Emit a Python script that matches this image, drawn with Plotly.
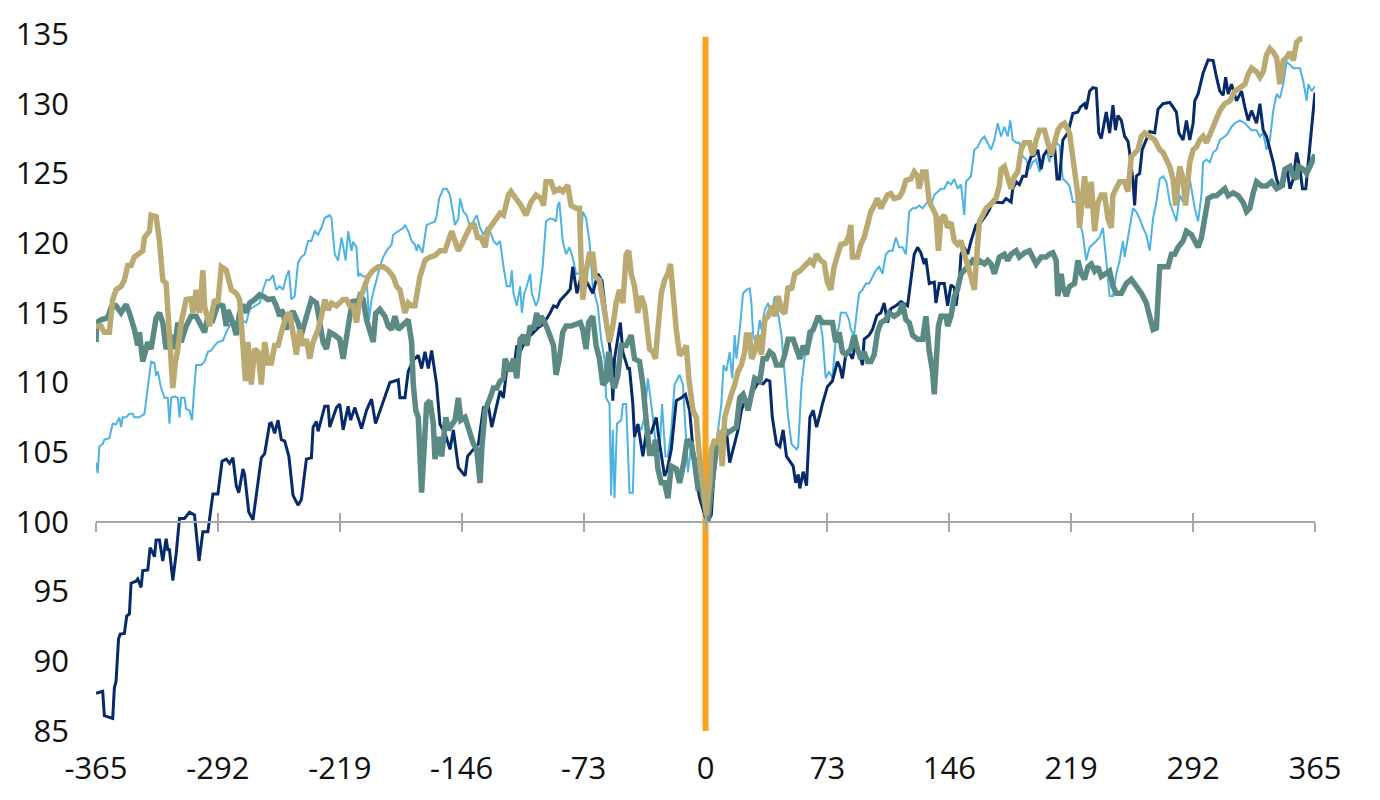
import plotly.graph_objects as go

# event-window chart: index = 100 at day 0, four series from day -365 to +365

X_TICKS = [-365, -292, -219, -146, -73, 0, 73, 146, 219, 292, 365]
X_TICK_TEXT = ["-365", "-292", "-219", "-146", "-73", "0", "73", "146", "219", "292", "365"]
Y_TICKS = [85, 90, 95, 100, 105, 110, 115, 120, 125, 130, 135]
EVENT_DAY = 0
EVENT_TOP = 134.8
BASE = 100

navy_days = [
    -365, -361, -360, -355, -354, -353, -351.5, -350.5, -348, -346.6, -345, -344, -341, -340, -338, -337,
    -334, -332.6, -331.5, -330, -329, -327, -325, -323, -322, -321, -319, -317, -315, -312, -309, -306,
    -303.3, -301, -298, -295, -292, -291, -289.5, -287, -285, -283, -281, -279.5, -277, -276, -273.5, -271,
    -269, -266, -264, -261, -260, -258, -256, -254, -252, -249.5, -247, -244, -242, -239, -236, -235,
    -233, -232, -228, -226, -225, -221, -219, -217, -214, -212.5, -210, -206, -203, -200, -197.6, -195.5,
    -192, -189, -184, -183, -180, -178, -175, -172, -170, -168, -166, -164, -161, -159, -156, -153,
    -151, -148, -144, -142.5, -139, -136, -133, -130, -128, -126, -123, -121, -119, -116, -114, -113,
    -111, -108, -105, -103, -100, -97, -93, -91, -89, -87, -83, -81, -79.5, -77, -74, -67.5,
    -64.5, -62, -59.5, -56.5, -55.5, -54.5, -51, -49.5, -46.5, -45.5, -43.5, -42.5, -40.5, -37.5, -35.5, -32.5,
    -29.5, -27.5, -24.5, -23, -20.5, -17.5, -14.5, -12, -9.5, -6.5, -3.5, -0.5, 1.5, 3.5, 4.5, 6.5,
    9.5, 12.5, 14.5, 17.5, 19.5, 21.5, 23.5, 25.5, 28.5, 31.5, 34.5, 36.5, 38.5, 40, 42.5, 44.5,
    46.5, 48.5, 52.5, 54, 55.5, 56.5, 58.5, 60.5, 62.5, 64.5, 66.5, 68.5, 70, 73, 76, 79,
    80.5, 82, 84, 86, 88, 89.7, 92, 94, 95, 98, 100, 102.6, 105, 107, 109, 111,
    114, 117, 121, 123, 125, 127, 129, 131, 132, 134, 137, 138, 140, 143, 145, 147,
    149, 150, 152, 153, 155, 157, 159, 162, 165, 168, 170, 172, 175, 178, 180, 183,
    184, 186, 188, 190, 192, 193, 195, 197, 199, 201, 202.5, 205, 207, 209, 210.5, 212,
    214, 217, 220, 223, 224.5, 227, 228, 230, 232, 234, 235.5, 237, 239, 240, 242, 244,
    245.5, 247, 249, 251, 253, 254, 256, 257, 258, 260, 261.5, 264, 266, 269, 271, 274,
    278, 280, 282, 283.5, 286, 288, 290, 292, 293, 295, 298, 301, 304, 306, 308, 310,
    311.5, 313, 315, 318, 321, 323, 325, 327, 330, 332, 334, 336, 337.5, 340, 342, 343.5,
    346, 348, 350, 352, 354, 356, 357.5, 359.5, 361, 363, 365,
]
navy_vals = [
    87.7, 87.85, 86.1, 85.9, 88.1, 88.55, 91.6, 91.95, 92.0, 93.24, 93.4, 95.6, 95.75, 95.9, 95.3, 96.5,
    96.55, 98.15, 97.9, 97.5, 98.7, 98.7, 97.2, 98.8, 98.0, 98.0, 95.8, 97.7, 100.25, 100.25, 100.7, 100.5,
    97.2, 99.3, 99.3, 102.0, 102.0, 102.8, 104.35, 104.5, 104.2, 104.6, 102.6, 102.1, 103.8, 103.4, 100.7, 100.15,
    101.9, 104.6, 104.9, 107.05, 107.1, 106.35, 107.3, 105.9, 105.8, 104.7, 101.9, 101.2, 101.6, 104.5, 104.6, 106.8,
    107.2, 106.5, 108.3, 108.3, 106.8, 108.2, 108.45, 106.6, 108.3, 107.3, 108.2, 106.7, 108.0, 108.8, 107.05, 107.8,
    108.9, 110.0, 110.2, 108.9, 108.9, 110.8, 111.6, 111.95, 111.0, 112.2, 111.0, 112.3, 109.85, 107.0, 106.35, 105.2,
    106.6, 103.9, 103.3, 104.7, 105.2, 105.6, 108.2, 108.3, 106.8, 107.8, 109.4, 108.9, 111.0, 111.3, 111.7, 112.65,
    112.2, 113.0, 113.4, 113.6, 113.95, 114.2, 115.0, 115.5, 115.4, 115.9, 116.4, 116.7, 118.3, 116.4, 117.85, 116.4,
    117.8, 117.3, 114.75, 111.7, 108.7, 111.7, 114.3, 112.2, 111.0, 111.0, 108.45, 106.1, 107.0, 104.7, 106.4, 106.4,
    107.5, 105.6, 103.3, 103.7, 105.2, 108.7, 108.9, 109.15, 108.0, 103.8, 101.7, 100.5, 100.0, 100.5, 102.4, 105.2,
    105.4, 106.6, 104.25, 105.6, 106.6, 108.0, 108.7, 108.0, 109.4, 110.0, 109.9, 110.2, 110.1, 107.5, 105.6, 105.4,
    106.6, 104.7, 104.0, 102.8, 103.4, 102.4, 103.6, 102.6, 107.5, 108.0, 106.8, 107.7, 108.45, 109.7, 110.1, 111.5,
    111.1, 110.3, 112.0, 112.2, 111.7, 112.65, 112.2, 111.25, 113.1, 113.4, 113.8, 114.8, 115.0, 115.7, 114.3, 115.3,
    115.5, 115.8, 115.5, 117.35, 119.2, 119.7, 119.3, 118.5, 118.9, 117.1, 117.2, 115.7, 117.1, 117.1, 115.5, 117.0,
    116.8, 115.5, 117.3, 119.2, 119.7, 119.2, 120.15, 121.3, 121.5, 122.0, 122.4, 122.95, 122.9, 122.9, 123.2, 122.95,
    123.9, 124.4, 124.2, 124.8, 124.8, 125.5, 126.2, 126.3, 126.7, 125.3, 126.3, 126.7, 126.2, 127.05, 124.6, 124.6,
    127.4, 127.9, 129.3, 129.4, 129.75, 130.0, 129.6, 130.9, 131.15, 131.1, 127.9, 127.5, 128.8, 129.4, 127.9, 129.9,
    128.1, 129.15, 128.8, 127.65, 127.3, 126.5, 124.4, 122.7, 124.8, 125.0, 126.7, 127.4, 128.0, 127.9, 129.6, 130.0,
    130.1, 129.75, 129.4, 127.9, 127.4, 128.8, 127.4, 128.6, 130.2, 130.7, 132.2, 133.15, 133.1, 131.9, 130.9, 130.6,
    131.9, 130.7, 131.4, 130.2, 130.9, 129.75, 128.8, 129.5, 128.6, 130.0, 128.1, 127.65, 126.95, 125.8, 124.6, 124.1,
    124.1, 125.5, 123.9, 124.6, 126.5, 125.3, 123.9, 123.9, 125.8, 128.6, 130.8,
]

teal_days = [
    -365, -364.5, -362, -358, -356, -353, -350, -347, -345, -342, -340, -339, -337, -334, -332, -329,
    -327, -325, -323, -320, -318, -316, -314, -311, -308, -305, -302, -300, -298, -295, -292, -289,
    -287, -286, -283, -281, -279, -277, -275, -273, -270, -267, -265, -262, -259, -257, -255, -254,
    -253, -251, -249, -247, -244, -242, -240, -238, -236, -233, -231, -229, -227, -225, -222, -219,
    -217, -215, -213, -211, -209, -207, -205, -203, -201, -199, -197.5, -195, -192, -190, -188, -186,
    -184, -182, -180, -178, -176, -175, -173.5, -172, -170, -168, -167, -165, -163, -162, -160, -158,
    -155.5, -154, -152, -150, -148, -146.5, -144, -141, -139, -137, -135, -134, -132, -129, -127, -125,
    -123, -121, -120, -117, -115, -113, -111, -109, -107, -105, -103, -101, -100, -98.5, -97, -94.5,
    -91, -89.5, -87.5, -85.5, -83.5, -80.5, -77.5, -75, -73.5, -71.5, -70, -67.5, -65.5, -63.5, -61.5, -59.5,
    -58, -56.5, -54.5, -52.5, -50.5, -47.5, -44.5, -42.5, -39.5, -37.5, -35.5, -33.5, -31.5, -30, -28.5, -26.5,
    -24.5, -22.5, -20.5, -17.5, -15.5, -13, -11, -8.5, -6.5, -4.5, -2.5, -0.5, 1.5, 3.5, 5, 6.5,
    9.5, 11.5, 13.5, 15.5, 18.5, 20.5, 22.5, 24.5, 25.5, 27.5, 29.5, 32.5, 34.5, 36.5, 38.5, 40.5,
    42.5, 45.5, 47.5, 49.5, 52.5, 54.5, 56.5, 58.5, 60.5, 62.5, 64.5, 67.5, 70, 72, 76, 78,
    80, 82, 84, 87, 89, 91, 93, 95, 97, 99, 101, 103, 105, 108, 110, 113,
    116, 118, 120, 122, 124, 127, 130, 132, 134, 136, 137, 138, 139.5, 141, 144, 145,
    147, 149, 151, 153, 155, 157, 160, 162, 164, 167, 169, 171, 173, 176, 179, 181,
    183, 186, 188, 191, 194, 196, 198, 201, 204, 206, 208, 210, 211, 213, 214, 216,
    218, 221, 223, 225, 227, 229, 231, 233, 235, 237, 239, 242, 244, 246, 249, 252,
    255, 258, 261, 264, 266, 268, 270, 271, 272, 275, 277, 279, 281, 283, 286, 288,
    291, 293, 295, 297, 299, 301, 304, 306, 308, 311, 313, 316, 319, 322, 324, 326,
    328, 330, 333, 336, 339, 342, 345, 347, 350, 352, 354, 355, 358, 360, 362, 365,
]
teal_vals = [
    112.9, 114.3, 114.5, 114.65, 115.35, 115.5, 115.0, 115.6, 115.0, 113.8, 112.65, 113.6, 111.5, 112.9, 112.4, 114.65,
    115.0, 114.3, 112.4, 113.4, 112.4, 114.3, 112.9, 114.05, 114.75, 114.75, 114.05, 113.6, 114.75, 114.5, 115.6, 115.5,
    114.05, 115.2, 114.3, 113.4, 115.0, 115.6, 115.0, 115.7, 115.95, 116.3, 116.2, 115.95, 116.0, 115.5, 114.75, 115.2,
    115.0, 113.8, 114.75, 115.1, 114.3, 113.4, 114.3, 115.0, 115.95, 115.7, 114.3, 112.9, 112.4, 113.6, 113.4, 113.1,
    111.7, 113.6, 114.75, 115.95, 115.5, 116.2, 115.95, 114.5, 113.6, 112.9, 114.95, 115.25, 114.75, 114.05, 113.8, 114.75,
    113.8, 114.05, 114.3, 114.5, 112.9, 109.85, 108.0, 107.5, 102.1, 107.05, 108.45, 108.7, 107.05, 104.5, 106.1, 104.7,
    107.5, 106.6, 107.05, 107.3, 108.9, 107.3, 107.5, 106.35, 105.6, 105.2, 102.8, 105.2, 108.0, 108.9, 109.6, 109.6,
    110.1, 110.3, 111.7, 110.8, 111.7, 110.3, 113.1, 113.4, 112.65, 114.05, 113.8, 115.0, 114.05, 114.75, 114.5, 113.8,
    112.65, 110.55, 111.7, 113.6, 114.05, 114.05, 114.2, 114.3, 113.8, 112.4, 114.3, 114.75, 112.65, 111.7, 109.85, 110.1,
    112.2, 110.3, 109.6, 110.5, 112.65, 112.65, 113.4, 111.7, 111.5, 109.85, 107.3, 104.9, 104.9, 105.9, 103.8, 102.8,
    102.8, 101.7, 104.0, 103.8, 102.8, 104.25, 105.9, 105.6, 104.25, 102.4, 102.4, 101.0, 100.0, 102.4, 104.25, 105.2,
    105.6, 106.6, 106.4, 106.6, 106.8, 108.9, 109.15, 108.45, 108.0, 109.15, 110.3, 110.1, 111.7, 111.7, 112.2, 112.0,
    111.25, 111.25, 112.0, 113.1, 113.1, 112.4, 111.7, 112.65, 112.0, 113.6, 113.8, 114.75, 114.3, 114.3, 114.3, 112.9,
    113.6, 112.2, 112.0, 112.4, 113.4, 112.4, 111.7, 112.2, 111.5, 111.5, 112.0, 113.6, 114.3, 114.5, 115.0, 114.75,
    115.0, 115.7, 114.5, 114.3, 113.4, 113.1, 113.1, 114.75, 112.2, 110.8, 109.15, 111.2, 114.05, 114.75, 114.75, 114.05,
    114.75, 116.2, 116.7, 117.8, 118.0, 118.3, 118.75, 118.5, 118.75, 118.5, 118.75, 118.5, 117.8, 119.0, 119.2, 118.75,
    119.2, 119.45, 119.0, 119.3, 119.45, 119.0, 118.5, 119.0, 119.0, 119.2, 119.3, 118.75, 116.2, 117.8, 116.9, 116.2,
    116.9, 117.1, 118.75, 117.8, 117.4, 118.3, 118.5, 118.0, 118.3, 117.6, 117.8, 118.0, 116.9, 116.4, 116.4, 117.1,
    117.4, 116.9, 116.4, 115.7, 114.5, 113.8, 113.9, 116.4, 118.3, 118.3, 118.3, 119.2, 119.2, 119.7, 120.15, 120.85,
    120.6, 120.15, 119.7, 120.4, 122.0, 123.2, 123.4, 123.4, 123.6, 123.9, 123.4, 123.6, 123.4, 122.9, 122.25, 122.5,
    123.6, 124.4, 124.1, 124.1, 124.4, 123.9, 124.1, 125.3, 125.5, 124.8, 124.6, 125.5, 125.3, 125.0, 125.5, 126.35,
]

tan_days = [
    -365, -362, -360, -357, -355, -353, -350, -348, -346, -344, -342, -340, -337, -336, -333, -332,
    -329, -327, -325, -323, -321.5, -320, -319, -317.5, -316, -314, -311, -308, -307, -305, -303, -301,
    -300, -297, -294, -292, -290, -287, -284, -281, -279, -277, -275.5, -274, -272, -270, -268, -266,
    -264, -262, -260, -258, -256, -253.5, -251, -249, -247, -245, -243, -241, -239, -237, -235, -232,
    -230, -228, -226, -224, -221, -219, -217, -215, -213, -211, -209, -207, -204, -202, -199, -196,
    -193, -190, -187, -185, -183, -182, -180, -178, -176, -174, -173, -171, -168, -165, -162, -159,
    -156, -154, -152, -150, -148, -146, -144, -142, -140.5, -138.5, -136.5, -134.5, -132, -130.5, -128, -126,
    -123, -121, -118, -116.5, -113.5, -110.5, -107.5, -104.5, -101.5, -98.5, -97, -95.5, -92.5, -90.5, -87.5, -85.5,
    -82.5, -80.5, -77.5, -75.5, -74.5, -73.5, -71.5, -69.5, -67.5, -66, -63.5, -61.5, -59.5, -57.5, -55.5, -53.5,
    -51.5, -49.5, -47.5, -46, -44.5, -42.5, -40.5, -38.5, -36.5, -34.5, -33.5, -31.5, -30, -28.5, -26.5, -24.5,
    -22.5, -21, -19.5, -17.5, -15.5, -13.5, -11.5, -10, -7.5, -5.5, -4, -2.5, -1, 0.5, 2.5, 3.5,
    5.5, 7.5, 8.5, 10, 11.5, 13.5, 15.5, 17.5, 19.5, 21.5, 23.5, 24.5, 26.5, 27.5, 29.5, 31.5,
    33.5, 35.5, 37.5, 39.5, 41.5, 43.5, 45.5, 47.5, 49.5, 51.5, 53.5, 56.5, 58.5, 60.5, 62.5, 64.5,
    66.5, 69, 71, 73, 75, 77, 79, 81, 84, 86, 87, 88, 91, 93, 95, 97,
    99, 101, 103, 105, 107, 109, 111, 113, 116, 118, 120, 123, 125, 127, 128, 130,
    132, 134, 136, 138, 139.5, 141, 143, 145, 147, 149, 151, 153, 155, 157, 159, 161,
    162, 164, 166, 168, 170, 172, 174, 176, 177, 179, 181, 183, 185, 187, 189, 191,
    194, 196, 198, 200, 203, 205, 207, 209, 211, 213, 215, 218, 220, 221, 223, 224,
    226, 227, 229, 231, 233, 235, 237, 239, 241, 243, 244, 246, 248, 251, 253, 255,
    257, 259, 261, 263, 266, 269, 272, 274, 276, 278, 280, 281.5, 284, 286, 287.5, 290,
    292, 294, 296, 298, 300, 303, 305, 308, 311, 314, 317, 320, 323, 325, 327, 330,
    332, 334, 336, 338, 340, 342, 344, 346, 348, 350, 352, 354, 356, 357.5,
]
tan_vals = [
    114.05, 114.05, 113.6, 113.6, 115.95, 116.65, 116.9, 117.35, 118.4, 118.4, 119.0, 119.2, 119.45, 120.4, 120.85, 122.0,
    121.9, 120.15, 117.35, 117.1, 114.3, 111.95, 109.6, 111.4, 112.4, 114.3, 115.95, 116.0, 115.0, 116.65, 115.0, 118.05,
    115.5, 114.05, 115.95, 115.7, 118.3, 118.05, 116.65, 116.4, 115.95, 112.65, 110.1, 112.9, 109.85, 112.4, 112.2, 109.85,
    112.9, 111.4, 111.4, 112.65, 112.65, 113.8, 114.75, 115.0, 113.4, 112.0, 113.8, 112.65, 113.1, 111.7, 112.9, 113.8,
    114.75, 115.95, 115.2, 115.7, 115.5, 115.7, 115.95, 115.95, 115.5, 115.5, 114.3, 115.95, 116.9, 117.6, 118.05, 118.3,
    118.3, 118.05, 117.6, 116.9, 116.65, 115.95, 115.0, 115.7, 115.5, 115.5, 116.4, 117.6, 118.75, 119.0, 119.1, 119.45,
    119.45, 120.15, 120.85, 120.15, 119.45, 119.9, 120.4, 120.85, 121.3, 121.3, 120.4, 120.4, 119.7, 120.85, 121.3, 121.55,
    122.15, 122.0, 123.45, 123.7, 123.2, 122.7, 122.0, 122.95, 123.45, 123.2, 122.7, 124.4, 124.4, 123.7, 123.9, 123.7,
    124.15, 122.7, 122.5, 122.5, 118.75, 115.95, 118.0, 119.2, 119.2, 117.6, 117.35, 115.7, 114.5, 112.9, 114.05, 115.7,
    116.65, 115.7, 119.2, 119.45, 117.8, 116.9, 115.0, 116.2, 115.5, 113.8, 112.4, 112.2, 111.7, 113.8, 116.4, 117.35,
    117.8, 118.5, 116.2, 113.8, 111.95, 112.2, 112.65, 110.3, 108.0, 107.5, 105.2, 103.55, 101.4, 100.5, 102.8, 105.2,
    105.9, 105.6, 106.6, 104.0, 107.5, 108.45, 109.15, 109.85, 110.8, 111.25, 112.2, 113.4, 113.4, 111.7, 112.2, 113.4,
    112.0, 114.5, 114.75, 115.5, 114.75, 116.2, 115.2, 114.95, 116.9, 116.65, 117.8, 118.0, 118.3, 118.5, 118.75, 118.5,
    119.2, 118.75, 118.6, 117.2, 116.65, 118.3, 119.2, 119.9, 120.0, 120.6, 121.3, 119.0, 119.0, 119.9, 120.4, 121.55,
    122.25, 122.7, 123.2, 122.5, 122.95, 123.45, 123.55, 123.2, 123.3, 123.7, 124.5, 124.6, 125.1, 124.8, 123.9, 125.1,
    125.1, 122.95, 122.5, 122.0, 119.45, 121.75, 122.0, 121.1, 121.5, 120.15, 119.9, 120.15, 119.2, 118.5, 117.6, 116.65,
    118.3, 121.55, 122.0, 122.5, 122.7, 122.95, 123.2, 124.15, 125.3, 125.5, 124.6, 123.9, 124.8, 125.1, 126.7, 127.2,
    127.2, 126.3, 127.4, 128.1, 128.1, 127.05, 126.3, 127.2, 128.1, 128.45, 128.6, 127.9, 126.0, 124.6, 123.45, 121.1,
    123.9, 124.8, 122.5, 124.4, 120.85, 122.9, 123.45, 123.45, 121.75, 121.1, 123.45, 123.9, 124.4, 124.4, 123.7, 126.2,
    126.5, 126.7, 127.65, 127.9, 127.65, 127.4, 126.7, 126.5, 126.0, 125.5, 124.6, 122.7, 125.5, 124.6, 122.7, 125.8,
    126.7, 126.9, 127.4, 127.65, 127.2, 128.1, 128.8, 129.5, 130.0, 130.2, 130.9, 131.2, 131.4, 132.1, 132.55, 132.3,
    131.9, 132.3, 133.5, 133.95, 133.7, 133.3, 131.4, 133.1, 133.3, 133.7, 133.1, 134.4, 134.65, 134.65,
]

light_days = [
    -365, -364, -363, -361, -360, -357, -355, -353, -351, -350, -349, -347, -345, -343, -342, -339,
    -336, -335, -333, -332, -330, -329, -328, -326, -324, -322, -321, -320, -318, -316, -315, -314,
    -312, -311, -309, -307.5, -306, -305, -302, -300, -298, -296, -294, -292, -289, -287, -284, -281,
    -278, -275, -273, -270, -267, -265, -263, -261, -259, -258, -257, -255, -253, -251, -249.5, -248,
    -246, -244, -242, -240, -238, -236, -234, -232, -230, -228, -225, -224, -222, -220, -218, -217,
    -215.5, -214, -212, -211, -209, -208, -207, -205, -203, -201.5, -200, -198, -195, -193, -191, -188,
    -187, -184, -181, -180, -178, -176, -174, -173, -172, -169.5, -167, -165, -162, -161, -159.5, -157,
    -155, -153, -151, -150, -148, -147, -145, -143, -141, -139, -137, -135, -133, -131, -129, -127,
    -125, -123, -121, -119, -117, -116, -115, -113, -111, -110, -108.5, -107, -105, -104, -101.5, -100,
    -97.5, -95.5, -93.5, -91.5, -89.5, -88.5, -87.5, -85.5, -83.5, -81.5, -79.5, -77.5, -75.5, -73.5, -71.5, -69.5,
    -67.5, -64.5, -62.5, -60.5, -59.5, -57.5, -56.5, -55.5, -54.5, -53, -50.5, -49.5, -47.5, -45.5, -43.5, -42.5,
    -40.5, -38.5, -36.5, -34.5, -33.5, -31.5, -29.5, -27.5, -26, -24, -22.5, -20.5, -18.5, -15.5, -13.5, -12,
    -10.5, -8.5, -6.5, -4.5, -2.5, -0.5, 1.5, 3.5, 5.5, 7.5, 9.5, 10.8, 12.5, 14.5, 16, 17.5,
    18.5, 20.5, 22.5, 24.5, 26.5, 27.5, 28.5, 30.5, 32.5, 33.5, 35.5, 37.5, 39.5, 41.5, 43.5, 45.5,
    47.5, 49.5, 51.5, 54.5, 55.5, 56.5, 57.5, 59.5, 62.5, 64.5, 66.5, 68.5, 70, 72, 74, 76,
    78, 80, 81, 84, 86, 87, 89, 91, 92, 94, 96, 98, 100, 102, 104, 106,
    108, 110, 112, 114, 116, 118, 120, 122, 124, 126, 128, 130, 133, 135, 137, 139,
    141, 143, 145, 147, 149, 151, 153, 155, 156, 159, 161, 163, 165, 167, 169, 171,
    173, 175, 176, 177, 179, 181, 182.5, 184, 186, 188, 190, 192, 194, 196, 198, 200,
    202, 204, 206, 208, 210, 212, 214, 216, 218, 220, 222, 224, 226, 228, 230, 232,
    234, 236, 238, 240, 242, 244, 246, 248, 250, 251, 253, 254, 256, 258, 260, 262,
    264, 266, 268, 270, 272, 274, 276, 278, 280, 282, 284, 286, 288, 290, 293, 295,
    297, 298, 300, 302, 304, 306, 308, 311, 313, 315, 317, 320, 323, 325, 327, 330,
    332, 334, 336, 338, 340, 342, 344, 346, 348, 350, 352, 354, 356, 358, 360, 361,
    363, 365,
]
light_vals = [
    104.25, 103.5, 105.4, 105.6, 105.9, 106.0, 107.05, 107.0, 107.5, 106.8, 107.5, 107.5, 107.75, 107.75, 107.5, 107.5,
    107.75, 108.7, 110.55, 111.5, 111.4, 110.5, 110.8, 109.6, 108.9, 108.9, 107.05, 108.9, 109.0, 108.9, 107.5, 108.9,
    108.9, 108.1, 108.0, 107.3, 109.85, 111.25, 111.25, 111.5, 112.2, 112.3, 112.65, 112.9, 113.0, 113.6, 114.3, 114.3,
    114.5, 114.3, 115.25, 115.5, 115.7, 116.65, 117.35, 117.35, 117.7, 117.1, 116.65, 116.9, 116.65, 117.6, 118.05, 115.95,
    116.2, 118.6, 119.0, 119.2, 120.15, 120.15, 120.85, 120.6, 121.1, 121.8, 122.0, 121.8, 119.2, 118.75, 120.4, 119.8,
    118.75, 120.85, 119.45, 120.1, 119.7, 117.6, 117.8, 117.6, 117.6, 114.5, 115.95, 116.9, 118.3, 119.0, 119.45, 119.9,
    120.6, 120.85, 121.1, 121.3, 120.85, 120.15, 119.9, 119.45, 119.9, 119.3, 121.3, 121.4, 121.55, 122.0, 123.2, 123.9,
    123.9, 123.45, 122.0, 121.3, 121.75, 123.2, 122.25, 122.0, 121.1, 121.55, 122.0, 121.1, 120.6, 121.1, 120.85, 120.15,
    119.9, 120.15, 118.3, 116.9, 116.9, 118.05, 116.4, 115.5, 116.9, 115.0, 116.4, 116.9, 117.8, 116.4, 115.5, 115.95,
    118.3, 121.55, 121.75, 121.75, 121.55, 122.7, 122.95, 120.15, 119.2, 119.7, 118.95, 117.8, 117.8, 122.25, 121.8, 120.15,
    116.9, 115.5, 113.1, 111.7, 108.9, 108.45, 101.9, 106.6, 101.7, 107.05, 107.3, 108.45, 108.45, 102.1, 102.1, 106.35,
    107.05, 106.6, 107.5, 110.3, 109.4, 107.5, 105.2, 105.2, 108.45, 104.7, 104.7, 106.6, 109.85, 110.55, 109.85, 107.05,
    103.55, 105.6, 104.25, 104.7, 102.8, 101.0, 100.2, 103.3, 104.7, 106.6, 108.45, 111.25, 110.8, 112.2, 110.3, 113.4,
    111.7, 113.8, 116.4, 116.65, 116.75, 115.7, 113.4, 112.65, 114.5, 113.8, 115.2, 115.7, 114.95, 116.2, 114.95, 113.4,
    110.3, 107.5, 105.6, 105.2, 105.4, 107.5, 109.85, 111.95, 112.65, 113.6, 114.5, 114.4, 113.4, 110.3, 110.8, 110.3,
    113.1, 114.05, 115.0, 115.0, 114.5, 113.8, 113.4, 115.5, 116.4, 116.65, 117.1, 117.1, 117.6, 118.05, 118.3, 117.8,
    119.2, 119.45, 119.45, 120.4, 119.7, 119.7, 119.2, 122.25, 122.5, 122.5, 122.7, 122.5, 122.95, 122.7, 123.45, 123.7,
    123.9, 123.9, 124.4, 124.2, 124.6, 123.9, 124.2, 122.0, 124.4, 124.8, 126.7, 126.9, 127.4, 127.65, 127.2, 126.7,
    127.4, 128.6, 128.1, 127.65, 128.35, 127.65, 128.8, 127.4, 127.2, 127.2, 126.2, 126.0, 125.3, 125.8, 126.0, 125.1,
    125.8, 126.7, 125.8, 126.7, 127.2, 127.0, 124.6, 124.4, 124.1, 122.95, 122.95, 121.55, 120.6, 118.75, 119.7, 119.9,
    120.15, 120.4, 121.1, 118.75, 116.2, 116.2, 117.8, 118.75, 120.15, 119.0, 120.4, 121.1, 122.5, 122.25, 121.75, 121.1,
    120.6, 119.45, 121.75, 122.95, 124.6, 124.8, 124.4, 122.95, 122.25, 121.55, 123.45, 122.95, 123.9, 124.6, 122.5, 121.55,
    123.45, 125.8, 126.0, 125.8, 126.5, 126.7, 127.4, 127.65, 127.9, 128.35, 128.6, 128.8, 128.6, 128.35, 128.1, 128.1,
    127.65, 127.9, 126.7, 127.4, 129.5, 130.7, 130.4, 131.4, 133.0, 132.8, 132.55, 132.55, 132.55, 131.6, 130.2, 131.4,
    130.9, 131.25,
]

series = [
    ("light", light_days, light_vals, "#4DB3E4", 2),
    ("navy", navy_days, navy_vals, "#062A6A", 3),
    ("teal", teal_days, teal_vals, "#5B8A85", 5.5),
    ("tan", tan_days, tan_vals, "#BAA970", 5.5),
]

fig = go.Figure()
for name, xs, ys, color, w in series:
    fig.add_trace(go.Scatter(x=xs, y=ys, mode="lines", name=name,
                             line=dict(color=color, width=w), hoverinfo="skip"))

# empty traces so the two overlay axes (line at 100 with crossing ticks) get drawn
for ax in ["x2", "x3"]:
    fig.add_trace(go.Scatter(x=[None], y=[None], xaxis=ax, yaxis="y",
                             mode="lines", showlegend=False, hoverinfo="skip"))

# orange event-day marker, behind the data
fig.add_shape(type="line", x0=EVENT_DAY, x1=EVENT_DAY, y0=Y_TICKS[0], y1=EVENT_TOP,
              xref="x", yref="y", layer="below", line=dict(color="#FAA21B", width=6))

font = dict(family="Open Sans", size=31, color="#111111")
y_lo, y_hi = Y_TICKS[0], Y_TICKS[-1]
base_pos = (BASE - y_lo) / (y_hi - y_lo)
x_range = [X_TICKS[0], X_TICKS[-1]]

fig.update_layout(
    width=1380, height=800,
    margin=dict(l=96, r=65, t=28, b=60),
    paper_bgcolor="white", plot_bgcolor="white",
    showlegend=False,
    font=font,
    xaxis=dict(range=x_range, tickvals=X_TICKS, ticktext=X_TICK_TEXT,
               showgrid=False, zeroline=False, showline=False, ticks="", ticklabelstandoff=16,
               tickfont=font),
    xaxis2=dict(range=x_range, tickvals=X_TICKS, overlaying="x", side="bottom",
                anchor="free", position=base_pos, showticklabels=False, showgrid=False,
                zeroline=False, showline=True, linecolor="#A6A6A6", linewidth=2,
                ticks="outside", ticklen=9, tickwidth=2, tickcolor="#A6A6A6"),
    xaxis3=dict(range=x_range, tickvals=X_TICKS, overlaying="x", side="bottom",
                anchor="free", position=base_pos, showticklabels=False, showgrid=False,
                zeroline=False, showline=False,
                ticks="inside", ticklen=9, tickwidth=2, tickcolor="#A6A6A6"),
    yaxis=dict(range=[y_lo, y_hi], tickvals=Y_TICKS, showgrid=False, zeroline=False,
               showline=False, ticks="", ticklabelstandoff=26, tickfont=font),
)

fig.write_html("out.html", config={"displayModeBar": False},
               post_script="document.body.style.margin='0';")
